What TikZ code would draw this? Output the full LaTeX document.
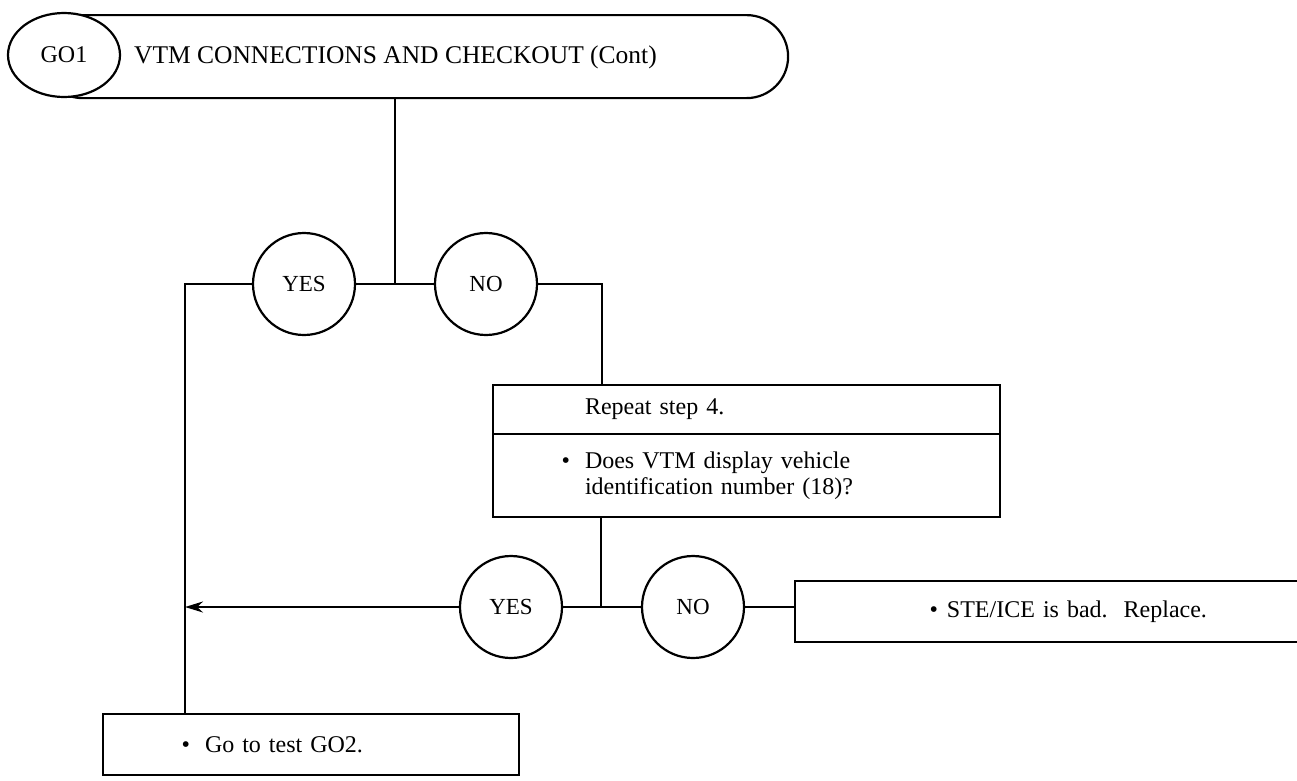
\documentclass[tikz,border=0pt]{standalone}
\usepackage{fontspec}
\setmainfont{Liberation Serif}
\usepackage{tikz}
\usetikzlibrary{arrows.meta, positioning, shapes.geometric}

\begin{document}
\begin{tikzpicture}[
  x=1pt, y=-1pt, line width=2.2pt,
  font=\fontsize{24}{26}\selectfont,
  ans/.style={draw, circle, minimum size=102pt, inner sep=0pt, font=\fontsize{23}{26}\selectfont},
  panel/.style={draw, rectangle, anchor=north west, align=left, inner ysep=0pt, outer sep=0pt},
  link/.style={-{Stealth[length=18pt, width=11pt]}}
]
  \useasboundingbox (0,0) rectangle (1297,780);
  \clip (0,0) rectangle (1297,780);

  \node[draw, rounded corners=41.5pt, minimum width=747pt, minimum height=83pt, inner sep=0pt, anchor=north west] (head) at (40,14) {};
  \node[draw, ellipse, fill=white, minimum width=112pt, minimum height=84pt, inner sep=0pt] (go) at (64,55) {GO1};
  \node[anchor=base west, inner sep=0pt, font=\fontsize{25.5}{28}\selectfont] (title) at (133,63) {VTM CONNECTIONS AND CHECKOUT (Cont)};

  \node[ans] (yes1) at (304,284) {YES};
  \node[ans] (no1) at (486,284) {NO};
  \coordinate (j1) at (395,284);
  \coordinate (c1) at (185,284);
  \coordinate (c2) at (602,284);

  \node[panel, inner xsep=92pt, text width=323pt, minimum height=49pt] (rptA) at (493,385) {Repeat step 4.};
  \node[panel, inner xsep=92pt, text width=323pt, minimum height=83pt] (rptB) at (rptA.south west)
    {\llap{\textbullet\hspace{15pt}}Does VTM display vehicle\\identification number (18)?};

  \node[ans] (yes2) at (511,607) {YES};
  \node[ans] (no2) at (693,607) {NO};
  \coordinate (j2) at (601,607);

  \node[panel, inner xsep=152pt, text width=301pt, minimum height=61pt] (ste) at (795,581)
    {\llap{\textbullet\hspace{9pt}}STE/ICE is bad.\ \ Replace.};
  \node[panel, inner xsep=102pt, text width=212pt, minimum height=61pt] (go2) at (103,714)
    {\llap{\textbullet\hspace{15pt}}Go to test GO2.};

  \draw (head.south -| j1) -- (j1);
  \draw (yes1) -- (no1);
  \draw (yes1) -- (c1) -- (c1 |- go2.north);
  \draw (no1) -- (c2) -- (c2 |- rptA.north);
  \draw (rptB.south -| j2) -- (j2);
  \draw (yes2) -- (no2);
  \draw[link] (yes2) -- (yes2 -| c1);
  \draw (no2.east) -- (no2.east -| ste.west);
\end{tikzpicture}
\end{document}
